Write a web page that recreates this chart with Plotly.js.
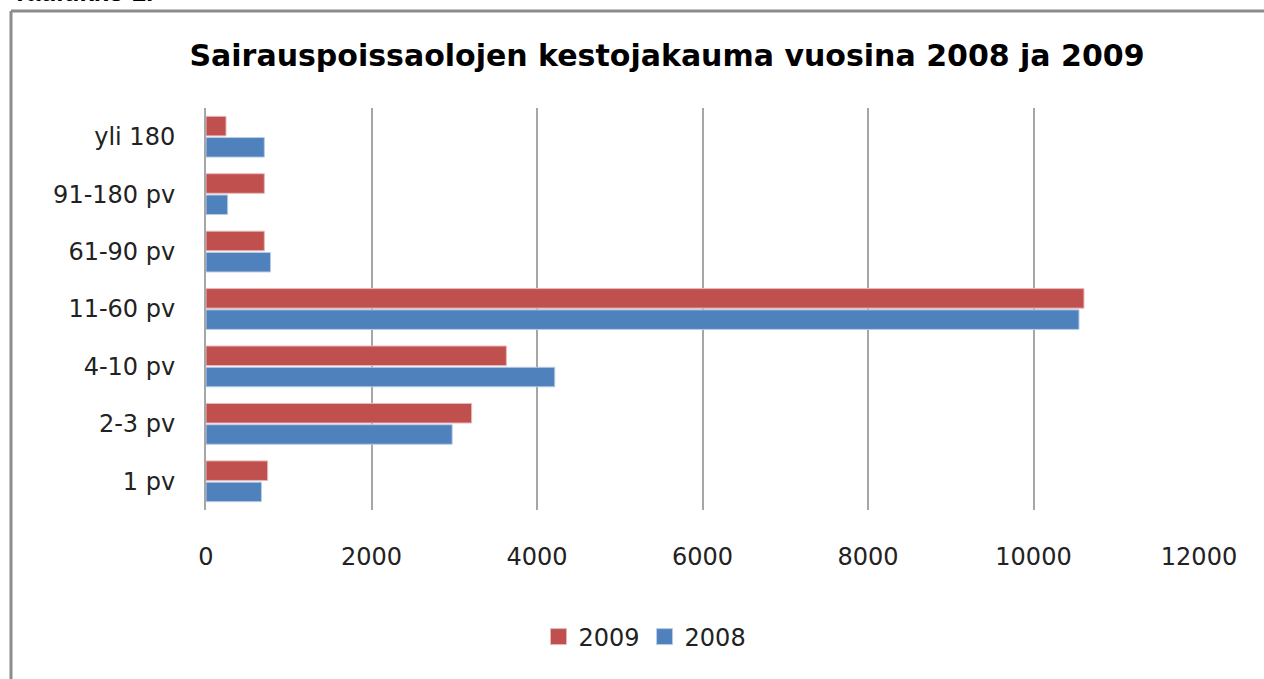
<!DOCTYPE html>
<html>
<head>
<meta charset="utf-8">
<script src="https://cdn.plot.ly/plotly-3.0.1.min.js"></script>
<style>html,body{margin:0;padding:0;background:#fff;}#chart{width:1264px;height:679px;}</style>
</head>
<body>
<div id="chart"></div>
<script>
const categories = ['1 pv', '2-3 pv', '4-10 pv', '11-60 pv', '61-90 pv', '91-180 pv', 'yli 180'];
const values2008 = [670, 2975, 4215, 10550, 780, 262, 705];
const values2009 = [745, 3210, 3630, 10610, 705, 705, 242];
const xTicks = [0, 2000, 4000, 6000, 8000, 10000, 12000];
const titleText = 'Sairauspoissaolojen kestojakauma vuosina 2008 ja 2009';
const color2008 = '#4F81BD';
const color2009 = '#C0504D';

const traces = [
  {
    type: 'bar', orientation: 'h', name: '2008',
    y: categories, x: values2008, showlegend: false,
    marker: {color: color2008, line: {color: '#B9CDE5', width: 1}},
    hoverinfo: 'x+y'
  },
  {
    type: 'bar', orientation: 'h', name: '2009',
    y: categories, x: values2009, showlegend: false,
    marker: {color: color2009, line: {color: '#E6B9B8', width: 1}},
    hoverinfo: 'x+y'
  },
  {
    type: 'scatter', mode: 'markers', name: '2008',
    x: [null], y: [null], legendrank: 2,
    marker: {symbol: 'square', size: 16, color: color2008, line: {color: '#B9CDE5', width: 1}}
  },
  {
    type: 'scatter', mode: 'markers', name: '2009',
    x: [null], y: [null], legendrank: 1,
    marker: {symbol: 'square', size: 16, color: color2009, line: {color: '#E6B9B8', width: 1}}
  }
];

const plotH = 510 - 108;
const plotW = 1199 - 206;

const layout = {
  width: 1264, height: 679,
  margin: {l: 206, r: 65, t: 108, b: 169},
  paper_bgcolor: '#ffffff', plot_bgcolor: '#ffffff',
  barmode: 'group', bargap: 0.26, bargroupgap: 0.08,
  title: {
    text: titleText,
    font: {family: 'DejaVu Sans', size: 30, color: '#000000', weight: 'bold'},
    x: 667 / 1264, xanchor: 'center', xref: 'container',
    y: 1 - 55 / 679, yanchor: 'middle', yref: 'container'
  },
  xaxis: {
    range: [0, 12000], tickvals: xTicks, ticktext: xTicks.map(String),
    showgrid: true, gridcolor: '#A6A6A6', gridwidth: 2,
    zeroline: false, showline: false, ticks: '',
    tickfont: {family: 'DejaVu Sans', size: 24, color: '#222222'},
    ticklabelstandoff: 30, fixedrange: true
  },
  yaxis: {
    type: 'category', categoryorder: 'array', categoryarray: categories,
    range: [-0.5, 6.5],
    showgrid: false, zeroline: false,
    showline: true, linecolor: '#A6A6A6', linewidth: 2,
    ticks: '',
    tickfont: {family: 'DejaVu Sans', size: 24, color: '#222222'},
    ticklabelstandoff: 24, fixedrange: true
  },
  legend: {
    orientation: 'h',
    xref: 'container', yref: 'container',
    x: 645 / 1264, xanchor: 'center', y: 1 - 637 / 679, yanchor: 'middle',
    font: {family: 'DejaVu Sans', size: 24, color: '#222222'},
    itemwidth: 30
  },
  shapes: [
    {type: 'line', xref: 'paper', yref: 'paper',
     x0: (11 - 206) / plotW, x1: (1270 - 206) / plotW,
     y0: (510 - 11) / plotH, y1: (510 - 11) / plotH,
     line: {color: '#8C8C8C', width: 3}},
    {type: 'line', xref: 'paper', yref: 'paper',
     x0: (11 - 206) / plotW, x1: (11 - 206) / plotW,
     y0: (510 - 11) / plotH, y1: (510 - 690) / plotH,
     line: {color: '#8C8C8C', width: 3}}
  ],
  annotations: [
    {text: '<b>Taulukko 1.</b>', xref: 'paper', yref: 'paper',
     x: (10 - 206) / plotW, xanchor: 'left',
     y: (510 - 9) / plotH, yanchor: 'bottom', showarrow: false,
     font: {family: 'Liberation Sans', size: 26, color: '#000000'}}
  ],
  showlegend: true
};

Plotly.newPlot('chart', traces, layout, {displayModeBar: false, staticPlot: true});
</script>
</body>
</html>
